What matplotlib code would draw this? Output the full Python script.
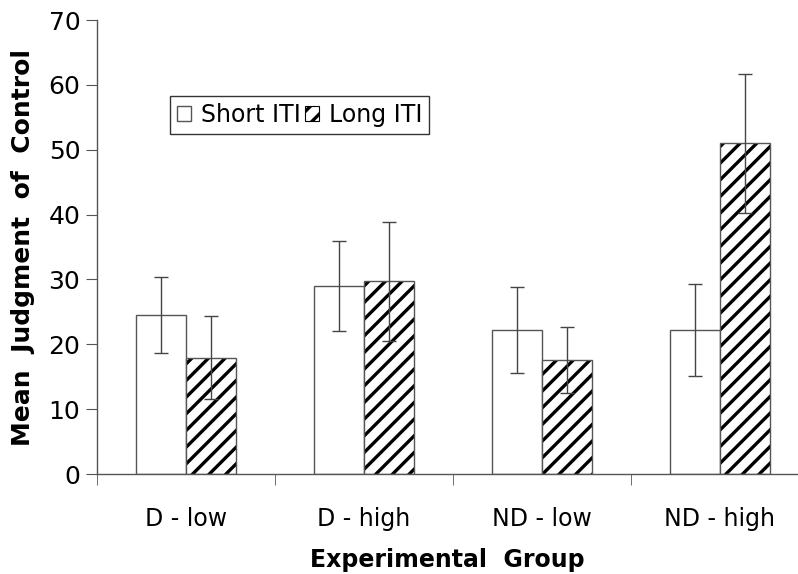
import numpy as np
import matplotlib
matplotlib.use("Agg")
import matplotlib.pyplot as plt
from matplotlib.patches import Patch

# data
groups = ["D - low", "D - high", "ND - low", "ND - high"]
short_iti = [24.5, 29.0, 22.2, 22.2]
short_err = [5.8, 6.9, 6.7, 7.1]
long_iti = [17.9, 29.7, 17.6, 51.0]
long_err = [6.4, 9.2, 5.1, 10.7]

plt.rcParams["font.family"] = "DejaVu Sans"
plt.rcParams["hatch.linewidth"] = 2.4

fig = plt.figure(figsize=(7.98, 5.74), dpi=100)
ax = fig.add_axes([97 / 798, 100 / 574, 701 / 798, 454 / 574])

x = np.arange(len(groups)) + 0.5
w = 0.28
edge = "#555555"

ax.bar(x - w / 2, short_iti, w, color="white", edgecolor=edge, linewidth=1)
# hatch drawn in black, outline drawn on top in grey
ax.bar(x + w / 2, long_iti, w, color="white", edgecolor="black", linewidth=0,
       hatch="//")
ax.bar(x + w / 2, long_iti, w, fill=False, edgecolor=edge, linewidth=1)
ax.errorbar(x - w / 2, short_iti, yerr=short_err, fmt="none", ecolor="#444444",
            elinewidth=1, capsize=5, capthick=1)
ax.errorbar(x + w / 2, long_iti, yerr=long_err, fmt="none", ecolor="#444444",
            elinewidth=1, capsize=5, capthick=1)

ax.set_xlim(0, 701 / 178)
ax.set_ylim(0, 70)
ax.set_yticks(range(0, 71, 10))
ax.tick_params(axis="y", labelsize=18, direction="out", length=8,
               color=edge, pad=4)

# category labels at group centres, tick marks at group borders
ax.set_xticks(x)
ax.set_xticklabels(groups, fontsize=17)
ax.tick_params(axis="x", length=0, pad=24)
ax.set_xticks(np.arange(len(groups)), minor=True)
ax.tick_params(axis="x", which="minor", direction="out", length=8, color=edge)

for s in ["top", "right"]:
    ax.spines[s].set_visible(False)
for s in ["left", "bottom"]:
    ax.spines[s].set_color(edge)
    ax.spines[s].set_linewidth(1)

ax.set_ylabel("Mean  Judgment  of  Control", fontsize=18, fontweight="bold",
              labelpad=10)
ax.set_xlabel("Experimental  Group", fontsize=17, fontweight="bold",
              labelpad=12)

handles = [Patch(facecolor="white", edgecolor=edge, linewidth=1),
           Patch(facecolor="white", edgecolor="black", linewidth=0.8, hatch="//")]
leg = ax.legend(handles, ["Short ITI", "Long ITI"], loc="upper left",
                bbox_to_anchor=(0.104, 0.833), borderaxespad=0, ncol=2,
                fontsize=17, fancybox=False, framealpha=1, edgecolor="#333333",
                handlelength=0.6, handleheight=0.6, handletextpad=0.4,
                columnspacing=0.2, borderpad=0.3)
leg.get_frame().set_linewidth(1)

fig.savefig("out.png", dpi=100)
